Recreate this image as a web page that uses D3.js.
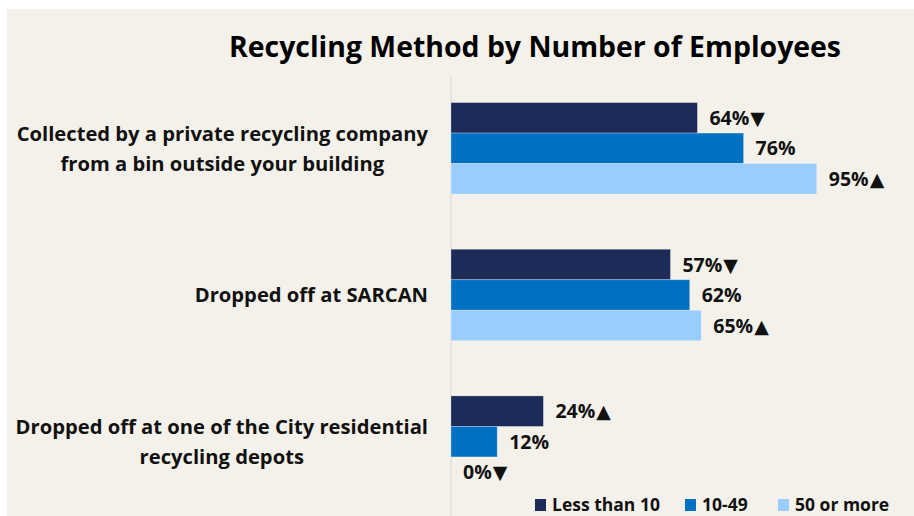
<!DOCTYPE html>
<html>
<head>
<meta charset="utf-8">
<script src="https://cdn.jsdelivr.net/npm/d3@7"></script>
<style>
  html, body { margin: 0; padding: 0; background: #ffffff; }
  svg { display: block; font-family: "Open Sans", "Noto Sans", sans-serif; font-weight: 700; }
</style>
</head>
<body>
<div id="chart"></div>
<script>
// data
const categories = [
    "Collected by a private recycling company\nfrom a bin outside your building",
    "Dropped off at SARCAN",
    "Dropped off at one of the City residential\nrecycling depots"
];
const seriesNames = ["Less than 10", "10-49", "50 or more"];
const lessThan10 = [64, 57, 24];
const from10to49 = [76, 62, 12];
const fiftyOrMore = [95, 65, 0];
// significance markers shown after each value label
const markLessThan10 = ["▼", "▼", "▲"];
const mark10to49 = ["", "", ""];
const markFiftyOrMore = ["▲", "▲", "▼"];

const colors = ["#1c2b57", "#0070c0", "#99ccff"];

const width = 914, height = 516;
const margin = {top: 75, right: 78, bottom: 1, left: 451};

const seriesValues = [lessThan10, from10to49, fiftyOrMore];
const seriesMarks = [markLessThan10, mark10to49, markFiftyOrMore];

const svg = d3.select("#chart").append("svg")
    .attr("width", width)
    .attr("height", height);

// panel background
svg.append("rect")
    .attr("x", 7).attr("y", 9)
    .attr("width", width - 7).attr("height", height - 9)
    .attr("fill", "#f4f1ea");

const xScale = d3.scaleLinear()
    .domain([0, 100])
    .range([margin.left, width - margin.right]);

const yScale = d3.scaleBand()
    .domain(categories)
    .range([margin.top, height - margin.bottom])
    .paddingInner(0.376)
    .paddingOuter(0.188);

const subScale = d3.scaleBand()
    .domain(seriesNames)
    .range([0, yScale.bandwidth()]);

// title
svg.append("text")
    .attr("x", 535)
    .attr("y", 57)
    .attr("text-anchor", "middle")
    .attr("font-size", 28)
    .attr("textLength", 612)
    .attr("lengthAdjust", "spacingAndGlyphs")
    .attr("fill", "#000")
    .text("Recycling Method by Number of Employees");

// vertical category axis line
svg.append("line")
    .attr("x1", xScale(0)).attr("x2", xScale(0))
    .attr("y1", margin.top).attr("y2", height)
    .attr("stroke", "#d9d9d9")
    .attr("stroke-width", 1);

// bars
const groups = svg.selectAll(".catG")
    .data(categories)
    .join("g")
    .attr("class", "catG")
    .attr("transform", d => "translate(0," + yScale(d) + ")");

groups.each(function (cat, ci) {
    const g = d3.select(this);
    seriesNames.forEach((s, si) => {
        const v = seriesValues[si][ci];
        if (v > 0) {
            g.append("rect")
                .attr("x", xScale(0))
                .attr("y", subScale(s))
                .attr("width", xScale(v) - xScale(0))
                .attr("height", subScale.bandwidth())
                .attr("fill", colors[si])
                .attr("stroke", "rgba(255,255,255,0.35)")
                .attr("stroke-width", 0.8);
        }
        const t = g.append("text")
            .attr("x", xScale(v) + 12)
            .attr("y", subScale(s) + subScale.bandwidth() / 2)
            .attr("dy", "0.36em")
            .attr("font-size", 19.5)
            .attr("fill", "#111");
        t.append("tspan").text(v + "%");
        if (seriesMarks[si][ci]) {
            t.append("tspan")
                .attr("font-family", "'DejaVu Sans', sans-serif")
                .attr("font-size", 19)
                .attr("dx", 1)
                .text(seriesMarks[si][ci]);
        }
    });
});

// category labels: each block centred on itself, right edge at the axis
const labelRight = 428;
categories.forEach(cat => {
    const lines = cat.split("\n");
    const t = svg.append("text")
        .attr("font-size", 20.2)
        .attr("fill", "#111")
        .attr("text-anchor", "middle");
    const lineH = 30;
    const cy = yScale(cat) + yScale.bandwidth() / 2;
    lines.forEach((ln, i) => {
        t.append("tspan")
            .attr("x", 0)
            .attr("y", cy + (i - (lines.length - 1) / 2) * lineH)
            .attr("dy", "0.36em")
            .text(ln);
    });
    const w = d3.max(t.selectAll("tspan").nodes(), n => n.getComputedTextLength());
    t.selectAll("tspan").attr("x", labelRight - w / 2);
});

// legend
const legendX = [535, 685, 778];
const legend = svg.selectAll(".legG")
    .data(seriesNames)
    .join("g")
    .attr("class", "legG")
    .attr("transform", (d, i) => "translate(" + legendX[i] + ",505)");
legend.append("rect")
    .attr("x", 0).attr("y", -6)
    .attr("width", 11).attr("height", 12)
    .attr("fill", (d, i) => colors[i]);
legend.append("text")
    .attr("x", 17)
    .attr("dy", "0.36em")
    .attr("font-size", 17.5)
    .attr("fill", "#111")
    .text(d => d);
</script>
</body>
</html>
